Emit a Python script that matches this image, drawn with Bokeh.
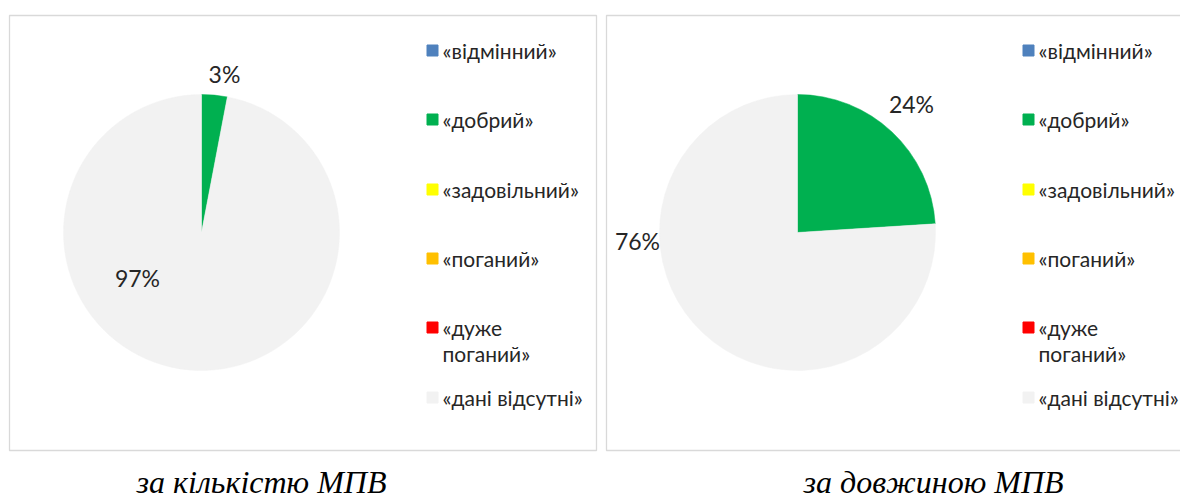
import math
from bokeh.plotting import figure
from bokeh.models import Range1d
from bokeh.core.properties import value
from bokeh.embed import file_html
from bokeh.resources import INLINE

# ---- data ----
categories = ["«відмінний»", "«добрий»", "«задовільний»", "«поганий»", "«дуже\nпоганий»", "«дані відсутні»"]
colors = ["#4F81BD", "#00B050", "#FFFF00", "#FFC000", "#FF0000", "#F2F2F2"]
count_values = [0, 3, 0, 0, 0, 97]      # за кількістю МПВ, %
length_values = [0, 24, 0, 0, 0, 76]    # за довжиною МПВ, %
captions = ["за кількістю МПВ", "за довжиною МПВ"]

W, H = 1180, 498
p = figure(width=W, height=H, output_backend="svg", toolbar_location=None,
           x_range=Range1d(0, W), y_range=Range1d(0, H),
           min_border=0, outline_line_color=None, background_fill_color="white")
p.axis.visible = False
p.grid.visible = False

def Y(py):
    return H - py

LABEL_FONT = value("Lato")
TXT = "#262626"

def panel(x0, x1, cx, cy, r, vals, label_pos, leg_x, caption, cap_x):
    # border
    p.quad(left=[x0], right=[x1], bottom=[Y(450)], top=[Y(15)], fill_color=None,
           line_color="#D9D9D9", line_width=1.3)
    total = sum(vals)
    cum = 0.0
    starts, ends, cols = [], [], []
    for v, c in zip(vals, colors):
        if v > 0:
            a0 = math.pi / 2 - 2 * math.pi * cum / total
            a1 = math.pi / 2 - 2 * math.pi * (cum + v) / total
            starts.append(a0); ends.append(a1); cols.append(c)
        cum += v
    p.wedge(x=[cx] * len(starts), y=[Y(cy)] * len(starts), radius=r, radius_units="screen",
            start_angle=starts, end_angle=ends, direction="clock",
            fill_color=cols, line_color=cols, line_width=0.5)
    # percentage labels
    nz = [v for v in vals if v > 0]
    lx = [lp[0] for lp in label_pos]
    ly = [Y(lp[1]) for lp in label_pos]
    p.text(x=lx, y=ly, text=[f"{v}%" for v in nz], text_font=LABEL_FONT,
           text_font_size="23px", text_align="center", text_baseline="middle", text_color=TXT)
    # legend
    rows = [50, 119, 189, 258, 327, 397]
    p.scatter(x=[leg_x] * len(categories), y=[Y(ry) for ry in rows], marker="square", size=11,
              fill_color=colors, line_color=colors)
    p.text(x=[leg_x + 10] * len(categories), y=[Y(ry) for ry in rows],
           text=[c.split("\n")[0] for c in categories], text_font=LABEL_FONT,
           text_font_size="21px", text_align="left", text_baseline="middle", text_color=TXT)
    second = [(c.split("\n")[1], ry) for c, ry in zip(categories, rows) if "\n" in c]
    p.text(x=[leg_x + 10] * len(second), y=[Y(ry + 26) for _, ry in second],
           text=[s for s, _ in second], text_font=LABEL_FONT,
           text_font_size="21px", text_align="left", text_baseline="middle", text_color=TXT)
    # caption
    p.text(x=[cap_x], y=[Y(481)], text=[caption], text_font=value("Liberation Serif"),
           text_font_style="italic", text_font_size="32px", text_align="center",
           text_baseline="middle", text_color="black")

panel(9, 596, 201, 232, 138, count_values, [(224, 73), (137, 277)], 432, captions[0], 261)
panel(606, 1200, 797, 232, 138, length_values, [(911, 103), (637, 240)], 1028, captions[1], 933)

open("out.html", "w").write(file_html(p, INLINE))
